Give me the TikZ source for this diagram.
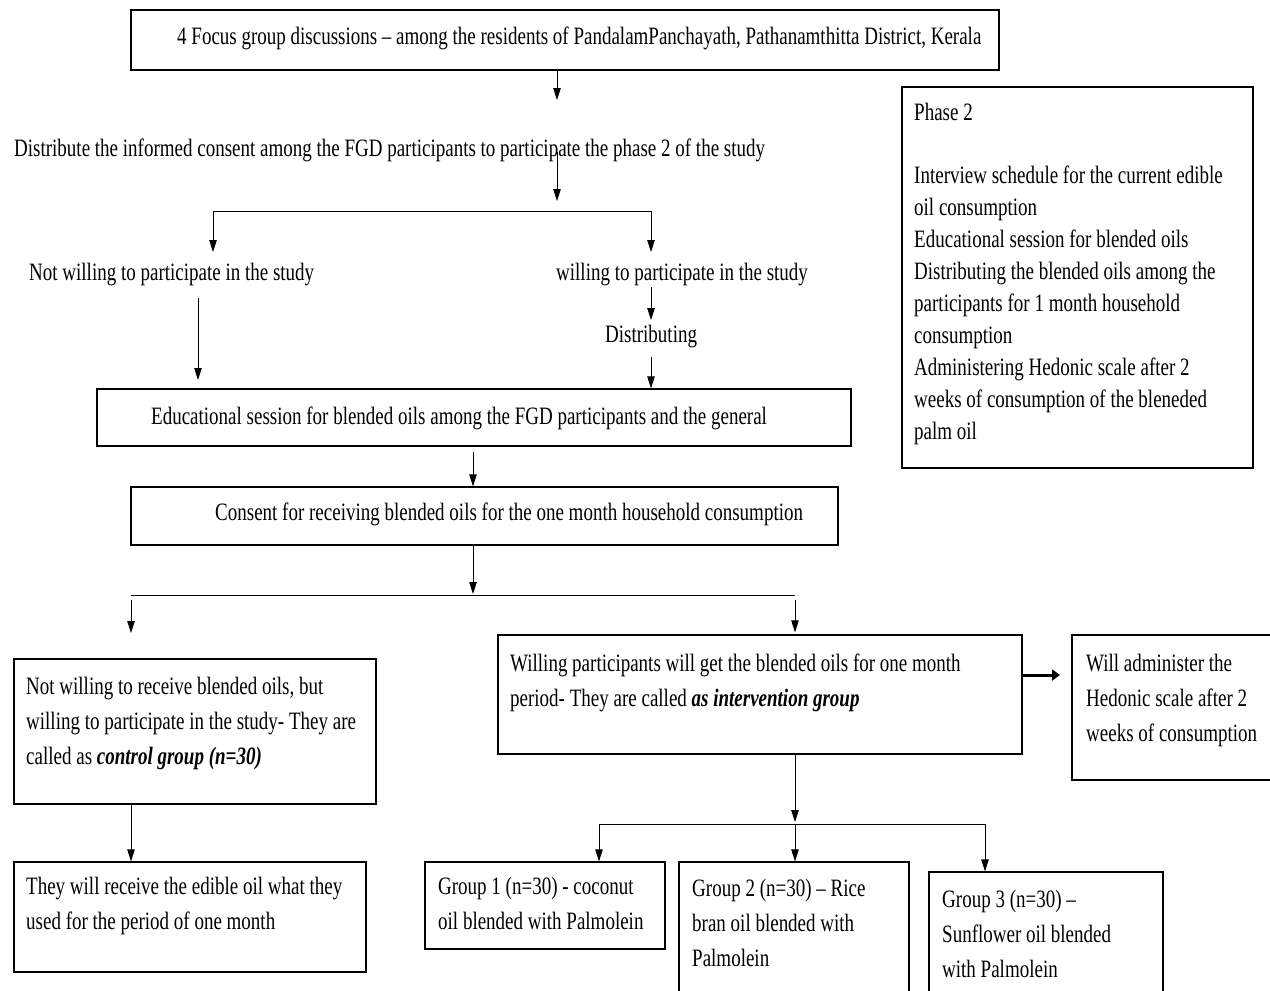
\documentclass[tikz,border=0pt]{standalone}
\usepackage{fontspec}
\setmainfont{Liberation Serif}[FakeStretch=0.76]
\usetikzlibrary{arrows.meta}
\tikzset{
  box/.style={draw, line width=1.3pt, inner sep=0pt},
  txt/.style={inner sep=0pt, anchor=base west, align=left, font=\fontsize{25}{35}\selectfont},
  ptxt/.style={txt, font=\fontsize{25}{32}\selectfont},
  arr/.style={-{Triangle[length=12pt,width=7.5pt]}, line width=0.8pt},
  ln/.style={line width=0.9pt},
  thickarr/.style={-{Triangle[length=8pt,width=11pt]}, line width=3pt}
}
\begin{document}
\begin{tikzpicture}[x=1pt,y=-1pt]
\clip (0,0) rectangle (1270,991);
\useasboundingbox (0,0) rectangle (1270,991);
\fill[white] (0,0) rectangle (1270,991);
% boxes
\node[box, minimum width=868pt, minimum height=60pt] (b1) at (565,40) {};
\node[box, minimum width=754pt, minimum height=57pt] (edu) at (474,417.5) {};
\node[box, minimum width=707pt, minimum height=58pt] (cons) at (484.5,516) {};
\node[box, minimum width=362pt, minimum height=145pt] (nw) at (195,731.5) {};
\node[box, minimum width=524pt, minimum height=119pt] (wl) at (760,694.5) {};
\node[box, minimum width=204pt, minimum height=145pt] (adm) at (1174,707.5) {};
\node[box, minimum width=352pt, minimum height=110pt] (tw) at (190,917) {};
\node[box, minimum width=240pt, minimum height=87pt] (g1) at (545,905.5) {};
\node[box, minimum width=230pt, minimum height=133pt] (g2) at (794,928.5) {};
\node[box, minimum width=234pt, minimum height=123pt] (g3) at (1046,933.5) {};
\node[box, minimum width=351pt, minimum height=381pt] (ph) at (1077.5,277.5) {};
% texts (anchor = baseline of the last line)
\node[txt] (t1) at (177,44) {4 Focus group discussions -- among the residents of PandalamPanchayath, Pathanamthitta District, Kerala};
\node[txt] (distr) at (14,156) {Distribute the informed consent among the FGD participants to participate the phase 2 of the study};
\node[txt] (notp) at (29,280) {Not willing to participate in the study};
\node[txt] (wp) at (556,280) {willing to participate in the study};
\node[txt] (dist) at (605,342) {Distributing};
\node[txt] (tedu) at (151,424) {Educational session for blended oils among the FGD participants and the general};
\node[txt] (tcons) at (215,520) {Consent for receiving blended oils for the one month household consumption};
\node[txt] (tnw) at (26,764) {Not willing to receive blended oils, but\\willing to participate in the study- They are\\called as \textbf{\textit{control group (n=30)}}};
\node[txt] (twl) at (510,706) {Willing participants will get the blended oils for one month\\period- They are called \textbf{\textit{as intervention group}}};
\node[txt] (tadm) at (1086,741) {Will administer the\\Hedonic scale after 2\\weeks of consumption};
\node[txt] (ttw) at (26,929) {They will receive the edible oil what they\\used for the period of one month};
\node[txt] (tg1) at (438,929) {Group 1 (n=30) - coconut\\oil blended with Palmolein};
\node[txt] (tg2) at (692,966) {Group 2 (n=30) -- Rice\\bran oil blended with\\Palmolein};
\node[txt] (tg3) at (942,977) {Group 3 (n=30) --\\Sunflower oil blended\\with Palmolein};
\node[ptxt] (tph) at (914,439) {Phase 2\\[31pt]Interview schedule for the current edible\\oil consumption\\Educational session for blended oils\\Distributing the blended oils among the\\participants for 1 month household\\consumption\\Administering Hedonic scale after 2\\weeks of consumption of the bleneded\\palm oil};
% coordinates
\coordinate (a1) at (557,100);
\coordinate (d1) at (557,152);
\coordinate (d2) at (557,201);
\coordinate (s1l) at (213,211);
\coordinate (s1r) at (651,211);
\coordinate (s1la) at (213,252);
\coordinate (s1ra) at (651,252);
\coordinate (w1) at (651,287);
\coordinate (w2) at (651,320);
\coordinate (n1) at (198,298);
\coordinate (n2) at (198,380);
\coordinate (ds1) at (651,357);
\coordinate (x473) at (473,0);
\coordinate (c1) at (473,594);
\coordinate (s2l) at (131,595);
\coordinate (s2r) at (795,595);
\coordinate (s2lt) at (131,600);
\coordinate (s2rt) at (795,600);
\coordinate (s2la) at (131,633);
\coordinate (s3) at (795,822);
\coordinate (s3l) at (599,824);
\coordinate (s3r) at (985,824);
\coordinate (s3m) at (795,824);
\coordinate (th1) at (1022,675);
\coordinate (th2) at (1060,675);
% connectors
\draw[arr] (b1.south -| a1) -- (a1);
\draw[arr] (d1) -- (d2);
\draw[ln] (s1l) -- (s1r);
\draw[arr] (s1l) -- (s1la);
\draw[arr] (s1r) -- (s1ra);
\draw[arr] (w1) -- (w2);
\draw[arr] (n1) -- (n2);
\draw[arr] (ds1) -- (edu.north -| ds1);
\draw[arr] ([yshift=-5pt]edu.south -| x473) -- (cons.north -| x473);
\draw[arr] (cons.south -| x473) -- (c1);
\draw[ln] (s2l) -- (s2r);
\draw[arr] (s2lt) -- (s2la);
\draw[arr] (s2rt) -- ([yshift=2pt]wl.north -| s2rt);
\draw[thickarr] (th1) -- (th2);
\draw[arr] (nw.south -| s2l) -- (tw.north -| s2l);
\draw[arr] (wl.south -| s3) -- (s3);
\draw[ln] (s3l) -- (s3r);
\draw[arr] (s3l) -- (g1.north -| s3l);
\draw[arr] (s3m) -- (g2.north -| s3m);
\draw[arr] (s3r) -- (g3.north -| s3r);
\end{tikzpicture}
\end{document}
